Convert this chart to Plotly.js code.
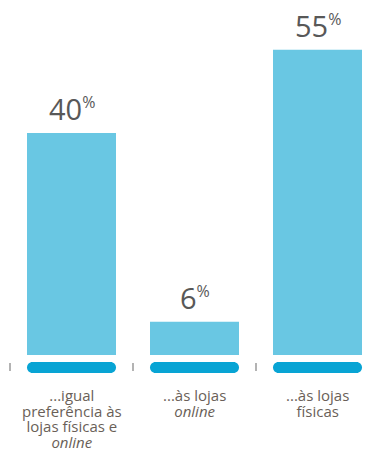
<!DOCTYPE html>
<html>
<head>
<meta charset="utf-8">
<script src="https://cdn.plot.ly/plotly-3.0.1.min.js"></script>
<style>html,body{margin:0;padding:0;background:#fff;}#chart{width:374px;height:450px;}</style>
</head>
<body>
<div id="chart"></div>
<script>
const categories = [
  "...igual<br>preferência às<br>lojas físicas e<br><i>online</i>",
  "...às lojas<br><i>online</i>",
  "...às lojas<br>físicas"
];
const values = [40, 6, 55];
const valueLabels = ["40", "6", "55"];

const xIdx = categories.map((c, i) => i);
const barColor = "#69c7e3";
const pillColor = "#08a4d4";
const barW = 0.7236;
const pxPerUnit = 123;
const pxPerY = 5.55;
const halfPx = barW * pxPerUnit / 2;
const rad = 5.5;
const pTop = -7, pBot = -18, pMid = (pTop + pBot) / 2;
const kk = 0.5523 * rad;
const ee = halfPx - rad;

function pillPath() {
  return `M ${-ee},${pTop} L ${ee},${pTop} ` +
    `C ${ee + kk},${pTop} ${halfPx},${pMid + kk} ${halfPx},${pMid} ` +
    `C ${halfPx},${pMid - kk} ${ee + kk},${pBot} ${ee},${pBot} ` +
    `L ${-ee},${pBot} ` +
    `C ${-ee - kk},${pBot} ${-halfPx},${pMid - kk} ${-halfPx},${pMid} ` +
    `C ${-halfPx},${pMid + kk} ${-ee - kk},${pTop} ${-ee},${pTop} Z`;
}

const shapes = [];
xIdx.forEach(i => {
  shapes.push({
    type: "path", xref: "x", yref: "y",
    xsizemode: "pixel", xanchor: i, ysizemode: "pixel", yanchor: 0,
    path: pillPath(), fillcolor: pillColor, line: {width: 0}
  });
  shapes.push({
    type: "line", xref: "x", yref: "y", x0: i - 0.5, x1: i - 0.5,
    ysizemode: "pixel", yanchor: 0, y0: -8, y1: -16,
    line: {color: "#9a9a9a", width: 1.5}
  });
});

const annotations = [];
xIdx.forEach(i => {
  annotations.push({
    x: i, y: values[i], xref: "x", yref: "y", xanchor: "center", yanchor: "bottom",
    yshift: 3, showarrow: false,
    text: valueLabels[i] + '<sup><span style="font-size:16px">%</span></sup>',
    font: {family: "Open Sans", size: 29, color: "#585858"}
  });
  annotations.push({
    x: i, y: 0, xref: "x", yref: "y", xanchor: "center", yanchor: "top",
    yshift: -28, showarrow: false, align: "center",
    text: categories[i].split("<br>").map(l => '<span style="font-size:15px">' + l + '</span>').join("<br>"),
    font: {family: "Open Sans", size: 12, color: "#6a5f58"}
  });
});

const data = [{
  type: "bar", x: xIdx, y: values, base: 0, width: barW,
  marker: {color: barColor, line: {width: 0}},
  hoverinfo: "none"
}];

const layout = {
  width: 374, height: 450,
  margin: {l: 0, r: 0, t: 0, b: 0, pad: 0},
  paper_bgcolor: "#ffffff", plot_bgcolor: "#ffffff",
  showlegend: false,
  xaxis: {range: [-71.5 / pxPerUnit, (374 - 71.5) / pxPerUnit], visible: false, fixedrange: true},
  yaxis: {range: [-95 / pxPerY, 355 / pxPerY], visible: false, fixedrange: true, zeroline: false},
  shapes: shapes,
  annotations: annotations
};

Plotly.newPlot("chart", data, layout, {displayModeBar: false, staticPlot: true});
</script>
</body>
</html>
